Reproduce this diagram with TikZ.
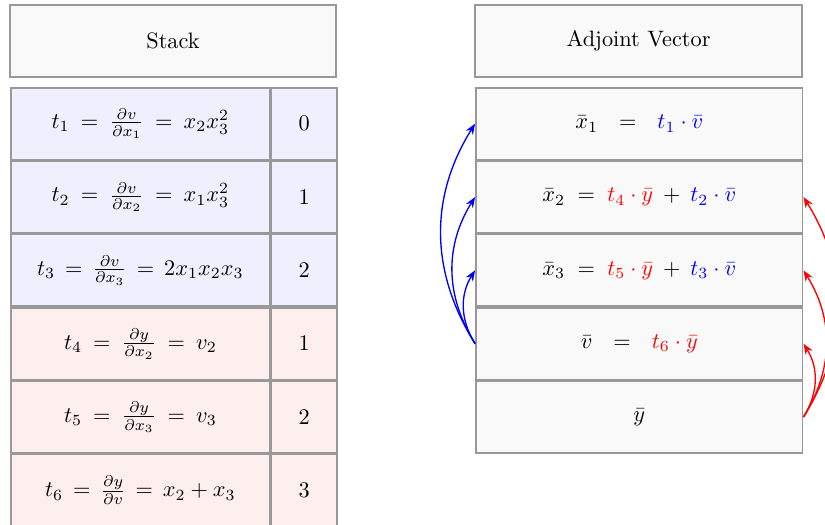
\documentclass[tikz,border=0pt]{standalone}
\usetikzlibrary{positioning,arrows.meta}
\definecolor{cellgray}{HTML}{F9F9F9}
\definecolor{boxline}{HTML}{999999}
\definecolor{fwdblue}{HTML}{EFEFFE}
\definecolor{revred}{HTML}{FEEFEF}

\begin{document}
\begin{tikzpicture}[
  box/.style={draw=boxline, line width=0.7pt, inner sep=0pt},
  headbox/.style={box, fill=cellgray, minimum width=5.14cm, minimum height=1.13cm},
  tcell/.style={box, minimum width=4.085cm, minimum height=1.131cm},
  idcell/.style={box, minimum width=1.03cm, minimum height=1.131cm},
  adjcell/.style={box, fill=cellgray, minimum width=5.15cm, minimum height=1.131cm},
  adjarrow/.style={semithick, -{Stealth[length=1.7mm, width=1.3mm]}}
]
  \useasboundingbox (0,0) rectangle (13.0,-8.258);
  % Headers
  \node[headbox] (stackhead) at (2.726,-0.646) {Stack};
  \node[headbox, minimum width=5.15cm] (adjhead) at (10.063,-0.646) {Adjoint Vector};
  % Stack — forward partials (blue)
  \node[tcell, fill=fwdblue, anchor=north west] (t1) at (0.158,-1.371)
        {$t_1 \:=\: \frac{\partial v}{\partial x_1} \:=\: x_2x_3^2$};
  \node[tcell, fill=fwdblue, below=0pt of t1] (t2)
        {$t_2 \:=\: \frac{\partial v}{\partial x_2} \:=\: x_1x_3^2$};
  \node[tcell, fill=fwdblue, below=0pt of t2] (t3)
        {$t_3 \,=\, \frac{\partial v}{\partial x_3} \,=\, 2x_1x_2x_3$};
  % Stack — output partials (red)
  \node[tcell, fill=revred, below=0pt of t3] (t4)
        {$t_4 \:=\: \frac{\partial y}{\partial x_2} \:=\: v_2$};
  \node[tcell, fill=revred, below=0pt of t4] (t5)
        {$t_5 \:=\: \frac{\partial y}{\partial x_3} \:=\: v_3$};
  \node[tcell, fill=revred, below=0pt of t5] (t6)
        {$t_6 \,=\, \frac{\partial y}{\partial v} \,=\, x_2 + x_3$};
  % Index column
  \node[idcell, fill=fwdblue, right=0pt of t1] (i1) {$0$};
  \node[idcell, fill=fwdblue, right=0pt of t2] (i2) {$1$};
  \node[idcell, fill=fwdblue, right=0pt of t3] (i3) {$2$};
  \node[idcell, fill=revred,  right=0pt of t4] (i4) {$1$};
  \node[idcell, fill=revred,  right=0pt of t5] (i5) {$2$};
  \node[idcell, fill=revred,  right=0pt of t6] (i6) {$3$};
  % Adjoint vector
  \node[adjcell, anchor=north west] (xb1) at (7.486,-1.371)
        {$\bar{x}_1 \ \ = \ \ \textcolor{blue}{t_1 \cdot \bar{v}}$};
  \node[adjcell, below=0pt of xb1] (xb2)
        {$\bar{x}_2 \;=\; \textcolor{red}{t_4 \cdot \bar{y}} \:+\: \textcolor{blue}{t_2 \cdot \bar{v}}$};
  \node[adjcell, below=0pt of xb2] (xb3)
        {$\bar{x}_3 \;=\; \textcolor{red}{t_5 \cdot \bar{y}} \:+\: \textcolor{blue}{t_3 \cdot \bar{v}}$};
  \node[adjcell, below=0pt of xb3] (vb)
        {$\bar{v} \ \ = \ \ \textcolor{red}{t_6 \cdot \bar{y}}$};
  \node[adjcell, below=0pt of vb] (yb) {$\bar{y}$};
  % Propagation of vbar (left side)
  \draw[adjarrow, blue] (vb.west) to[bend left=32] (xb1.west);
  \draw[adjarrow, blue] (vb.west) to[bend left=32] (xb2.west);
  \draw[adjarrow, blue] (vb.west) to[bend left=32] (xb3.west);
  % Propagation of ybar (right side)
  \draw[adjarrow, red] (yb.east) to[bend right=32] (xb2.east);
  \draw[adjarrow, red] (yb.east) to[bend right=32] (xb3.east);
  \draw[adjarrow, red] (yb.east) to[bend right=32] (vb.east);
\end{tikzpicture}
\end{document}
